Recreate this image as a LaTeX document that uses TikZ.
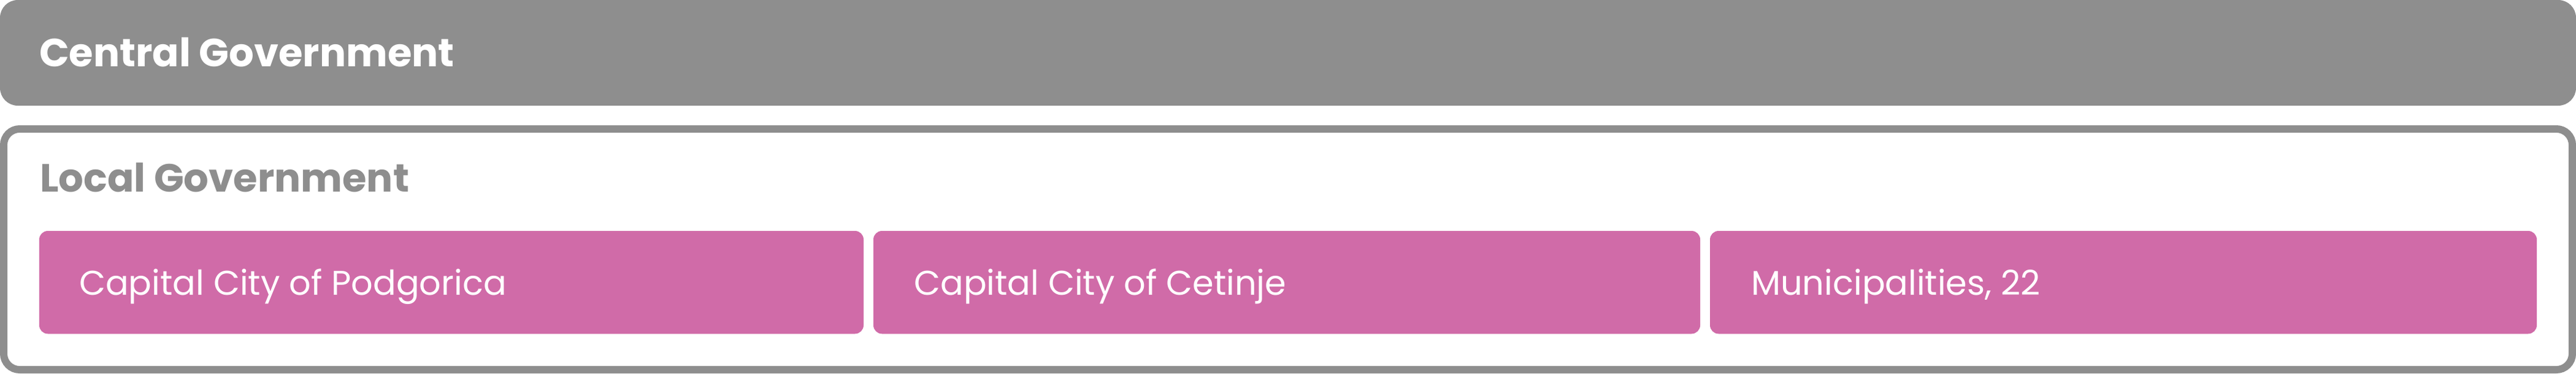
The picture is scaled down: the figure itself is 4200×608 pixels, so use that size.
\documentclass[tikz,border=0pt]{standalone}
\usepackage{fontspec}
\setmainfont{Poppins}
\definecolor{govgray}{HTML}{8E8E8E}
\definecolor{govpink}{HTML}{D06BA8}
\tikzset{
  barbox/.style={fill=govgray, draw=none, rounded corners=29pt, inner sep=0pt, outer sep=0pt, minimum width=4200pt, minimum height=172pt},
  framebox/.style={draw=govgray, line width=12pt, fill=white, rounded corners=26pt, inner sep=0pt, outer sep=0pt, minimum width=4188pt, minimum height=392pt},
  pinkbox/.style={fill=govpink, draw=none, rounded corners=14pt, inner sep=0pt, outer sep=0pt, minimum height=167.5pt, anchor=north west},
  headtext/.style={anchor=base west, inner sep=0pt, font=\fontsize{64}{64}\selectfont\bfseries},
  itemtext/.style={anchor=base west, inner sep=0pt, text=white, font=\fontsize{55.8}{56}\selectfont},
}
\begin{document}
\begin{tikzpicture}[x=1pt,y=-1pt]
\useasboundingbox (0,0) rectangle (4200,608);
\node[barbox] (central) at (2100,86) {};
\node[headtext, text=white] (centralt) at (64,108.6) {Central Government};
\node[framebox] (local) at (2100,406) {};
\node[headtext, text=govgray] (localt) at (65,312) {Local Government};
\node[pinkbox, minimum width=1344pt] (pod) at (64,376) {};
\node[pinkbox, minimum width=1348pt] (cet) at (1424,376) {};
\node[pinkbox, minimum width=1348pt] (mun) at (2788,376) {};
\node[itemtext] (podt) at (129,480.5) {Capital City of Podgorica};
\node[itemtext] (cett) at (1490,480.5) {Capital City of Cetinje};
\node[itemtext] (munt) at (2855,480.5) {Municipalities, 22};
\end{tikzpicture}
\end{document}
